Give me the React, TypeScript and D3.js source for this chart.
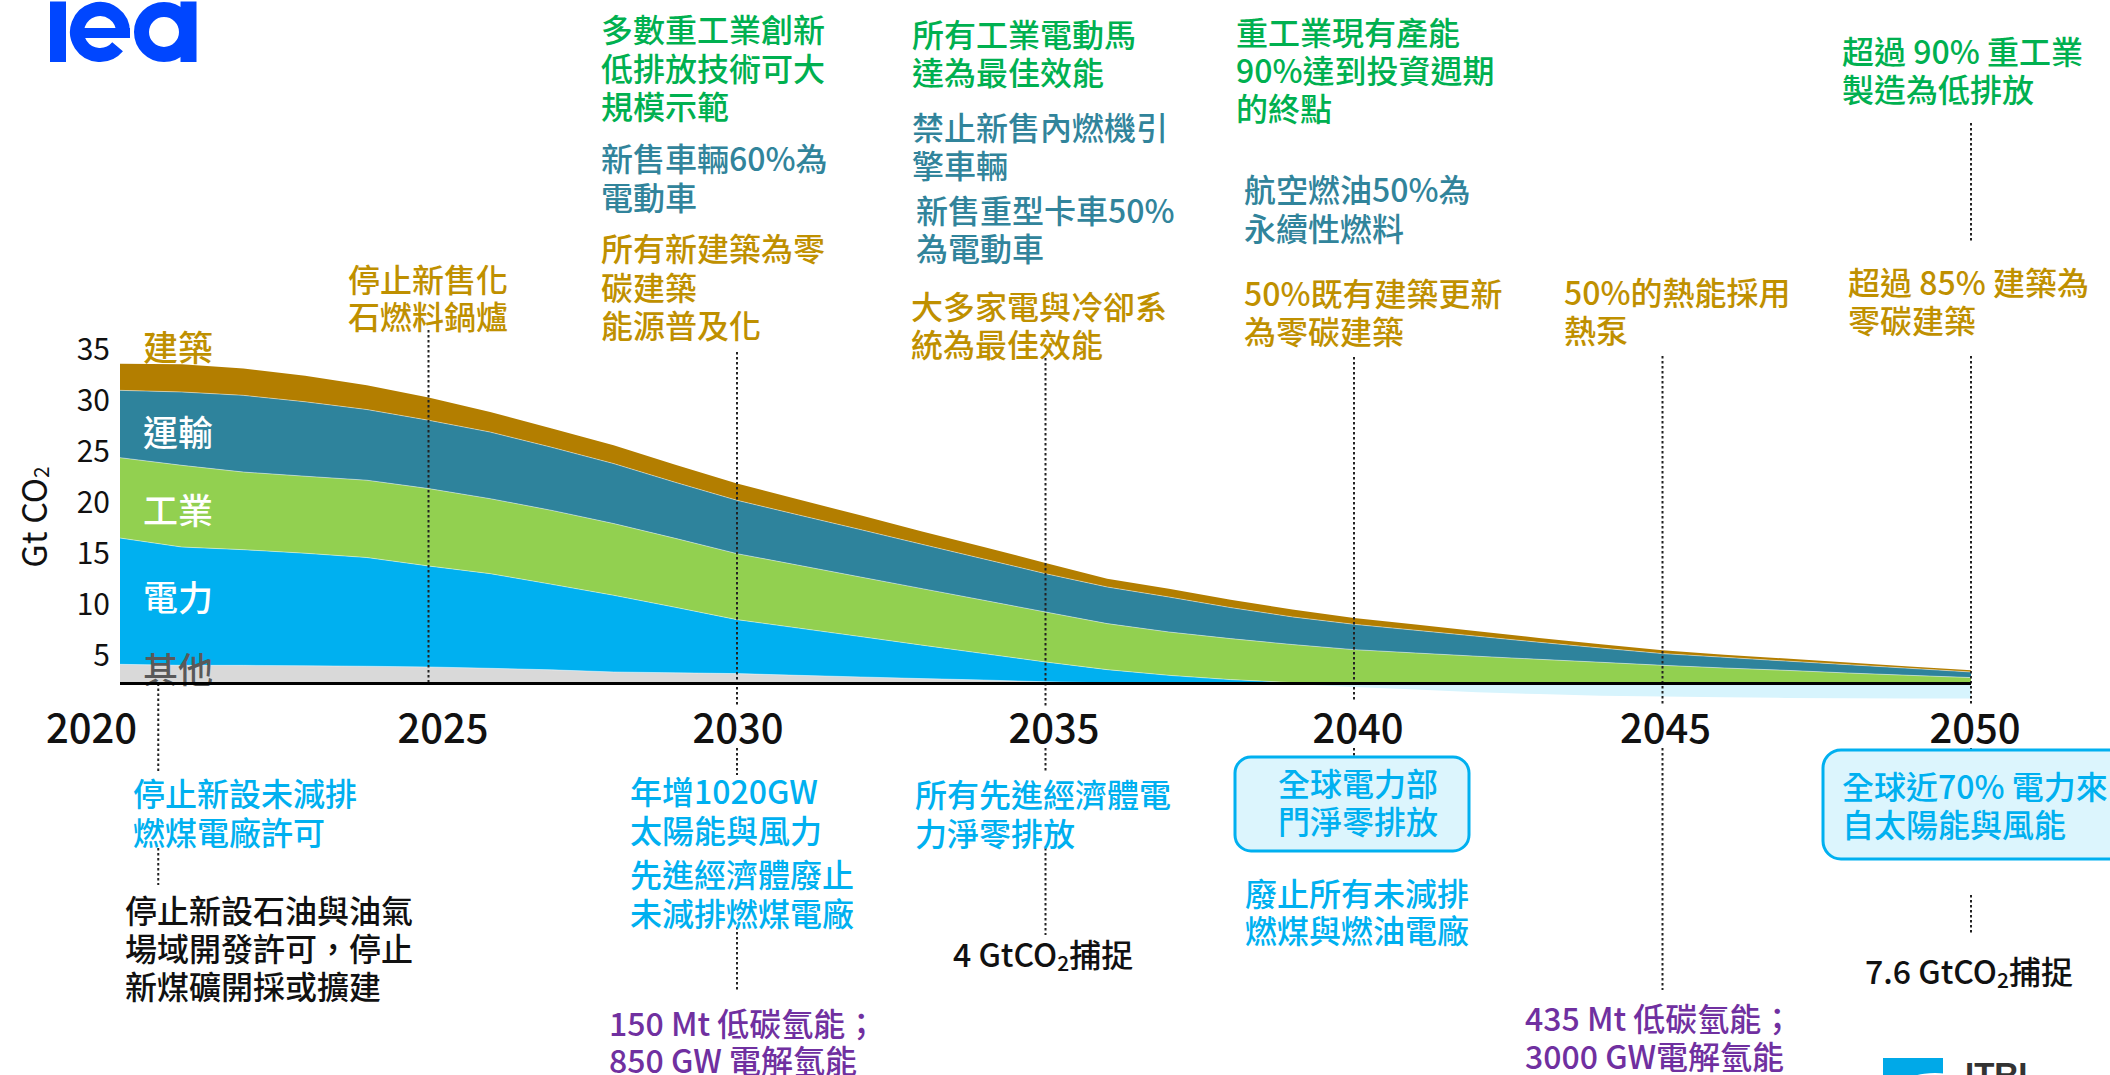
import React from 'react';
import * as d3 from 'd3';

// ---------------- DATA ----------------
const years = [2020, 2021, 2022, 2023, 2024, 2025, 2026, 2027, 2028, 2029, 2030, 2031, 2032, 2033, 2034, 2035, 2036, 2037, 2038, 2039, 2040, 2041, 2042, 2043, 2044, 2045, 2046, 2047, 2048, 2049, 2050];
const other = [1.89, 1.79, 1.79, 1.75, 1.7, 1.63, 1.5, 1.35, 1.14, 1.06, 0.98, 0.81, 0.65, 0.49, 0.35, 0.18, 0.08, 0, 0, 0, 0, 0, 0, 0, 0, 0, 0, 0, 0, 0, 0];
const power = [12.38, 11.6, 11.34, 11.03, 10.66, 9.9, 9.28, 8.38, 7.52, 6.42, 5.29, 4.63, 3.96, 3.28, 2.59, 1.94, 1.29, 0.81, 0.39, 0.1, 0, 0, 0, 0, 0, 0, 0, 0, 0, 0, 0];
const industry = [7.88, 8.01, 7.61, 7.55, 7.58, 7.59, 7.35, 7.25, 7.03, 6.76, 6.47, 6.16, 5.84, 5.54, 5.23, 4.9, 4.51, 4.25, 4.02, 3.73, 3.33, 3.0, 2.68, 2.38, 2.09, 1.79, 1.53, 1.3, 1.04, 0.81, 0.59];
const transport = [6.6, 7.19, 7.52, 7.3, 6.93, 6.7, 6.53, 6.18, 5.88, 5.49, 5.23, 4.93, 4.65, 4.34, 4.05, 3.76, 3.59, 3.43, 3.04, 2.71, 2.48, 2.23, 1.96, 1.67, 1.4, 1.15, 1.05, 0.91, 0.82, 0.69, 0.55];
const buildings = [2.62, 2.72, 2.62, 2.55, 2.38, 2.23, 1.96, 1.86, 1.79, 1.72, 1.64, 1.51, 1.4, 1.27, 1.18, 1.04, 0.82, 0.82, 0.78, 0.73, 0.62, 0.56, 0.49, 0.42, 0.36, 0.32, 0.26, 0.24, 0.2, 0.17, 0.17];
const removals = [0, 0, 0, 0, 0, 0, 0, 0, 0, 0, 0, 0, 0, 0, 0, 0, 0, 0, 0, 0.05, 0.33, 0.59, 0.85, 1.03, 1.18, 1.27, 1.35, 1.4, 1.44, 1.47, 1.47];

const sectorKeys = ['other', 'power', 'industry', 'transport', 'buildings'];
const sectorNames = ['其他', '電力', '工業', '運輸', '建築'];
const yTicks = [5, 10, 15, 20, 25, 30, 35];
const yearTicks = [2020, 2025, 2030, 2035, 2040, 2045, 2050];
const axisBase = 2;

// annotation texts
const tHeavyInd2030 = ['多數重工業創新', '低排放技術可大', '規模示範'];
const tCars2030 = ['新售車輛60%為', '電動車'];
const tBuild2030 = ['所有新建築為零', '碳建築', '能源普及化'];
const tMotors2035 = ['所有工業電動馬', '達為最佳效能'];
const tICE2035 = ['禁止新售內燃機引', '擎車輛'];
const tTrucks2035 = ['新售重型卡車50%', '為電動車'];
const tAppl2035 = ['大多家電與冷卻系', '統為最佳效能'];
const tInd2040 = ['重工業現有產能', '90%達到投資週期', '的終點'];
const tAviation2040 = ['航空燃油50%為', '永續性燃料'];
const tBuild2040 = ['50%既有建築更新', '為零碳建築'];
const tHeat2045 = ['50%的熱能採用', '熱泵'];
const tInd2050 = ['超過 90% 重工業', '製造為低排放'];
const tBuild2050 = ['超過 85% 建築為', '零碳建築'];
const tBoilers2025 = ['停止新售化', '石燃料鍋爐'];
const tCoal2021 = ['停止新設未減排', '燃煤電廠許可'];
const tOil2021 = ['停止新設石油與油氣', '場域開發許可，停止', '新煤礦開採或擴建'];
const tSolar2030 = ['年增1020GW', '太陽能與風力'];
const tPhase2030 = ['先進經濟體廢止', '未減排燃煤電廠'];
const tH2030 = ['150 Mt 低碳氫能；', '850 GW 電解氫能'];
const tNet2035 = ['所有先進經濟體電', '力淨零排放'];
const tNet2040 = ['全球電力部', '門淨零排放'];
const tPhase2040 = ['廢止所有未減排', '燃煤與燃油電廠'];
const tH2045 = ['435 Mt 低碳氫能；', '3000 GW電解氫能'];
const tRen2050 = ['全球近70% 電力來', '自太陽能與風能'];

// ---------------- STYLE ----------------
const FONT = '"Noto Sans CJK TC", "Noto Sans", sans-serif';
const C = {
  buildingsArea: '#b37e00',
  transportArea: '#2e839c',
  industryArea: '#92d050',
  powerArea: '#00b0f0',
  otherArea: '#d9d9d9',
  removals: '#d7f4fd',
  green: '#00b050',
  teal: '#31849b',
  gold: '#bf9000',
  blue: '#00b0f0',
  purple: '#7030a0',
  black: '#111111',
};
const areaColors = [C.otherArea, C.powerArea, C.industryArea, C.transportArea, C.buildingsArea];
const labelColors = ['#595959', '#ffffff', '#ffffff', '#ffffff', C.gold];

type BlockProps = { x: number; y: number; lines: string[]; color: string; sp?: number; anchor?: string; size?: number };
function Block({ x, y, lines, color, sp = 38.5, anchor = 'start', size = 32 }: BlockProps) {
  return (
    <g>
      {lines.map((l, i) => (
        <text key={i} x={x} y={y + i * sp} fill={color} fontSize={size} fontFamily={FONT} fontWeight={500}
          textAnchor={anchor as any} dominantBaseline="central">{l}</text>
      ))}
    </g>
  );
}

export default function App() {
  const W = 2110, H = 1075;
  const x = d3.scaleLinear().domain([2020, 2050]).range([120, 1971]);
  const y = d3.scaleLinear().domain([0, 35]).range([704, 347]);

  const rows = years.map((yr, i) => ({
    year: yr, other: other[i], power: power[i], industry: industry[i], transport: transport[i], buildings: buildings[i],
  }));
  const series = d3.stack<any>().keys(sectorKeys)(rows as any);
  const area = d3.area<any>()
    .x((d: any) => x(d.data.year))
    .y0((d: any) => y(d[0] + axisBase))
    .y1((d: any) => y(d[1] + axisBase));
  const topLine = d3.line<any>()
    .x((d: any) => x(d.data.year))
    .y((d: any) => y(d[1] + axisBase));
  const remArea = d3.area<number>()
    .x((_, i) => x(years[i]))
    .y0(() => y(axisBase))
    .y1((d) => y(axisBase - d));

  const axisY = y(axisBase);

  // dotted milestone connectors: [x, [y-ranges]]
  const dotted: [number, [number, number][]][] = [
    [x(2020.62), [[axisY, 772], [848, 885]]],
    [x(2025), [[330, axisY]]],
    [x(2030), [[352, 707], [748, 775], [927, 992]]],
    [x(2035), [[358, 707], [748, 772], [848, 935]]],
    [x(2040), [[357, 700], [748, 757]]],
    [x(2045), [[356, 705], [748, 990]]],
    [x(2050), [[123, 242], [356, 705], [748, 750], [895, 935]]],
  ];

  const chartLabelY = [667, 595.5, 508.5, 430, 345];
  const yearShift: Record<number, number> = { 2020: -28.5, 2025: 14.5, 2030: 1, 2035: 8.5, 2040: 4, 2045: 3, 2050: 4 };

  return (
    <svg width={W} height={H} viewBox={`0 0 ${W} ${H}`} style={{ position: 'fixed', left: 0, top: 0, background: '#fff' }}>
      <rect x={0} y={0} width={W} height={H} fill="#ffffff" />

      {/* IEA logo */}
      <g fill="#0046ff">
        <rect x={50} y={1.5} width={16} height={60.5} />
        <path d="M 123 32 A 23 23 0 1 0 117.6 46.8" fill="none" stroke="#0046ff" strokeWidth={14} />
        <rect x={76} y={28} width={54} height={10} />
        <circle cx={164} cy={32} r={22.5} fill="none" stroke="#0046ff" strokeWidth={15} />
        <rect x={180.5} y={1.5} width={16} height={60.5} />
      </g>

      {/* stacked areas */}
      {series.map((s: any, i: number) => (
        <path key={sectorKeys[i]} d={area(s) || ''} fill={areaColors[i]} />
      ))}
      {series.slice(0, 4).map((s: any, i: number) => (
        <path key={'l' + i} d={topLine(s) || ''} fill="none" stroke="#ffffff" strokeOpacity={0.45} strokeWidth={1} />
      ))}
      <path d={remArea(removals) || ''} fill={C.removals} />

      {/* sector labels */}
      {sectorNames.map((n, i) => (
        <text key={n} x={143} y={chartLabelY[i]} fill={labelColors[i]} fontSize={35} fontFamily={FONT} fontWeight={500}
          dominantBaseline="central">{n}</text>
      ))}

      {/* dotted lines */}
      {dotted.map(([lx, segs], i) => (
        <g key={'d' + i}>
          {segs.map(([a, b], j) => (
            <line key={j} x1={lx} x2={lx} y1={a} y2={b} stroke="#222" strokeWidth={2} strokeDasharray="2.5,2.5" />
          ))}
        </g>
      ))}

      {/* axis line */}
      <line x1={x(2020)} x2={x(2050)} y1={axisY} y2={axisY} stroke="#000" strokeWidth={3} />

      {/* y ticks */}
      {yTicks.map((t) => (
        <text key={t} x={110} y={y(t)} textAnchor="end" dominantBaseline="central" fontSize={30} fontFamily={FONT} fill="#111">{t}</text>
      ))}
      <text transform="translate(32,517) rotate(-90)" textAnchor="middle" dominantBaseline="central" fontSize={34} fontFamily={FONT} fill="#111">
        Gt CO<tspan dy={8} fontSize={21}>2</tspan>
      </text>

      {/* year labels */}
      {yearTicks.map((yr) => (
        <text key={yr} x={x(yr) + yearShift[yr]} y={726} textAnchor="middle" dominantBaseline="central"
          fontSize={40} fontFamily={FONT} fontWeight={500} fill="#111">{yr}</text>
      ))}

      {/* top annotations */}
      <Block x={601} y={28} lines={tHeavyInd2030} color={C.green} />
      <Block x={601} y={157} lines={tCars2030} color={C.teal} />
      <Block x={601} y={247} lines={tBuild2030} color={C.gold} />
      <Block x={912} y={33} lines={tMotors2035} color={C.green} sp={38} />
      <Block x={912} y={126} lines={tICE2035} color={C.teal} sp={38} />
      <Block x={916} y={208.5} lines={tTrucks2035} color={C.teal} sp={38} />
      <Block x={911} y={304.5} lines={tAppl2035} color={C.gold} sp={38} />
      <Block x={1236} y={31} lines={tInd2040} color={C.green} sp={38} />
      <Block x={1244} y={188} lines={tAviation2040} color={C.teal} />
      <Block x={1244} y={292} lines={tBuild2040} color={C.gold} sp={38} />
      <Block x={1564} y={290.5} lines={tHeat2045} color={C.gold} />
      <Block x={1842} y={50} lines={tInd2050} color={C.green} sp={38} />
      <Block x={1848} y={280.5} lines={tBuild2050} color={C.gold} sp={38} />
      <Block x={348} y={278} lines={tBoilers2025} color={C.gold} sp={37} />

      {/* bottom annotations */}
      <Block x={133} y={792} lines={tCoal2021} color={C.blue} sp={39} />
      <Block x={125} y={909} lines={tOil2021} color={C.black} sp={38} />
      <Block x={630} y={790} lines={tSolar2030} color={C.blue} sp={39} />
      <Block x={630} y={873} lines={tPhase2030} color={C.blue} sp={38.5} />
      <Block x={609} y={1022} lines={tH2030} color={C.purple} sp={37} />
      <Block x={915} y={793} lines={tNet2035} color={C.blue} sp={38.5} />
      <text x={953} y={953} fontSize={32} fontFamily={FONT} fontWeight={500} fill={C.black} dominantBaseline="central">
        4 GtCO<tspan dy={9} fontSize={21}>2</tspan><tspan dy={-9}>捕捉</tspan>
      </text>

      <rect x={1235} y={757} width={234} height={94} rx={16} fill="#dcf5fd" stroke={C.blue} strokeWidth={3} />
      <Block x={1358} y={781.5} lines={tNet2040} color={C.blue} sp={38.5} anchor="middle" />
      <Block x={1357} y={891.5} lines={tPhase2040} color={C.blue} sp={37} anchor="middle" />
      <Block x={1525} y={1017} lines={tH2045} color={C.purple} sp={38} />

      <rect x={1823} y={750} width={310} height={109} rx={18} fill="#dcf5fd" stroke={C.blue} strokeWidth={3} />
      <Block x={1842} y={785} lines={tRen2050} color={C.blue} sp={38} />
      <text x={1865} y={970} fontSize={32} fontFamily={FONT} fontWeight={500} fill={C.black} dominantBaseline="central">
        7.6 GtCO<tspan dy={9} fontSize={21}>2</tspan><tspan dy={-9}>捕捉</tspan>
      </text>

      {/* ITRI logo */}
      <rect x={1883} y={1058} width={60} height={20} fill="#00a9e8" />
      <ellipse cx={1935} cy={1082} rx={28} ry={9} fill="#ffffff" />
      <text x={1965} y={1086} fontSize={33} fontFamily='"Liberation Sans", Arial, sans-serif' fontWeight={700} fill="#333">ITRI</text>
    </svg>
  );
}
